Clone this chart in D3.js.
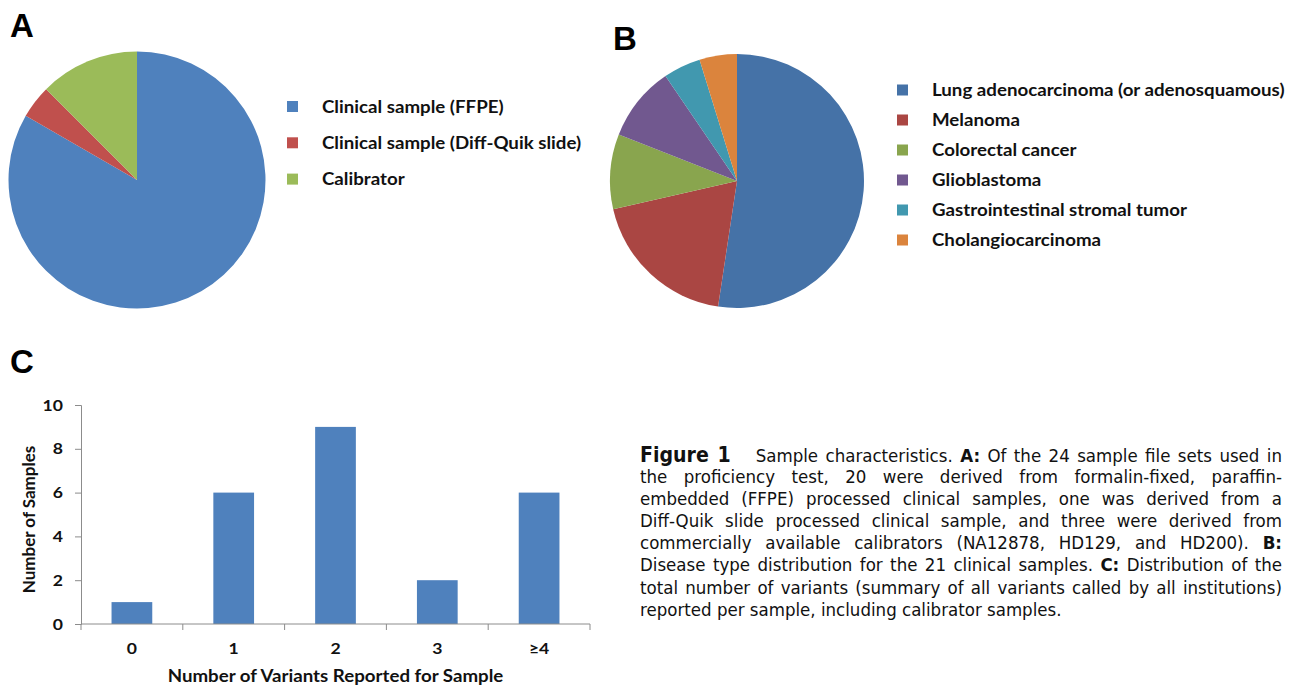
<!DOCTYPE html>
<html><head><meta charset="utf-8">
<script src="https://cdn.jsdelivr.net/npm/d3@7"></script>
<style>
body{margin:0;background:#fff;}
#wrap{position:relative;width:1295px;height:688px;overflow:hidden;}
svg{position:absolute;left:0;top:0;}
#cap{position:absolute;left:640px;top:444px;font-family:"DejaVu Sans Condensed","Liberation Sans Narrow",sans-serif;color:#111;transform-origin:0 0;}
#cap .ln{text-align:justify;text-align-last:justify;white-space:nowrap;height:22.1px;line-height:22.1px;}
#cap .ln.last{text-align-last:left;}
</style></head><body>
<div id="wrap"><svg id="chart" width="1295" height="688"></svg><div id="cap"></div></div>
<script>
// ---- Data ----
const sampleTypes = ["Clinical sample (FFPE)", "Clinical sample (Diff-Quik slide)", "Calibrator"];
const sampleCounts = [20, 1, 3];
const sampleColors = ["#4F81BD", "#C0504D", "#9BBB59"];

const diseaseTypes = ["Lung adenocarcinoma (or adenosquamous)", "Melanoma", "Colorectal cancer", "Glioblastoma", "Gastrointestinal stromal tumor", "Cholangiocarcinoma"];
const diseaseCounts = [11, 4, 2, 2, 1, 1];
const diseaseColors = ["#4572A7", "#AA4643", "#89A54E", "#71588F", "#4198AF", "#DB843D"];

const variantCategories = ["0", "1", "2", "3", "\u22654"];
const variantSamples = [1, 6, 9, 2, 6];
const yTicks = [0, 2, 4, 6, 8, 10];

const captionLines = [
  [["b","Figure 1"],["n","\u2003\u2002Sample characteristics. "],["b","A:"],["n"," Of the 24 sample file sets used in"]],
  [["n","the proficiency test, 20 were derived from formalin-fixed, paraffin-"]],
  [["n","embedded (FFPE) processed clinical samples, one was derived from a"]],
  [["n","Diff-Quik slide processed clinical sample, and three were derived from"]],
  [["n","commercially available calibrators (NA12878, HD129, and HD200). "],["b","B:"]],
  [["n","Disease type distribution for the 21 clinical samples. "],["b","C:"],["n"," Distribution of the"]],
  [["n","total number of variants (summary of all variants called by all institutions)"]],
  [["n","reported per sample, including calibrator samples."]]
];

const svg = d3.select("#chart");
const labelFont = "Lato, 'Open Sans', sans-serif";
const SX = 1.1; // horizontal stretch of the labels

function label(g, x, y, t, size, anchor){
  return g.append("text").attr("transform",`translate(${x},${y}) scale(${SX},1)`)
    .attr("text-anchor",anchor||"start").text(t)
    .attr("font-family",labelFont).attr("font-weight","bold").attr("font-size",size).attr("fill","#111");
}

// panel letters
[["A",10,37],["B",613,50],["C",10,373]].forEach(([t,x,y])=>{
  svg.append("text").attr("x",x).attr("y",y).text(t)
    .attr("font-family","'Liberation Sans', Arial, sans-serif").attr("font-weight","bold").attr("font-size",33).attr("fill","#000");
});

function drawPie(cx, cy, r, vals, cols, names, legX, legY0, legStep){
  const pie = d3.pie().sort(null).value(d=>d)(vals);
  const arc = d3.arc().innerRadius(0).outerRadius(r);
  const g = svg.append("g").attr("transform",`translate(${cx},${cy})`);
  g.selectAll("path").data(pie).join("path").attr("d",arc).attr("fill",(d,i)=>cols[i]);
  const lg = svg.append("g");
  names.forEach((n,i)=>{
    const y = legY0 + i*legStep;
    lg.append("rect").attr("x",legX).attr("y",y-5.5).attr("width",11).attr("height",11).attr("fill",cols[i]);
    label(lg, legX+35, y+6, n, 17);
  });
}
drawPie(137,180,128.5,sampleCounts,sampleColors,sampleTypes,287,106.5,36.3);
drawPie(737,181,127,diseaseCounts,diseaseColors,diseaseTypes,897,90,30);

// ---- Bar chart C ----
const x0=81, x1=590, yTop=405, yBot=624;
const x = d3.scaleBand().domain(variantCategories).range([x0,x1]).paddingInner(0.6).paddingOuter(0.3);
const xb = d3.scaleBand().domain(variantCategories).range([x0,x1]);
const y = d3.scaleLinear().domain([0,10]).range([yBot,yTop]);
const gc = svg.append("g");
gc.selectAll("rect.bar").data(variantSamples).join("rect").attr("class","bar")
  .attr("x",(d,i)=>x(variantCategories[i])).attr("width",x.bandwidth())
  .attr("y",d=>y(d)).attr("height",d=>yBot-y(d)).attr("fill","#4F81BD");
const axisCol="#8c8c8c";
const ya = gc.append("g").attr("transform",`translate(${x0},0)`).call(d3.axisLeft(y).tickValues(yTicks).tickSize(6).tickPadding(12));
ya.select(".domain").attr("stroke",axisCol);
ya.selectAll(".tick line").attr("stroke",axisCol);
ya.selectAll("text").attr("x",null).attr("transform",`translate(-18,0) scale(${SX},1)`)
  .attr("font-family",labelFont).attr("font-weight","bold").attr("font-size",16).attr("fill","#111");
const xa = gc.append("g").attr("transform",`translate(0,${yBot})`).call(d3.axisBottom(xb).tickSize(0).tickPadding(19));
xa.select(".domain").attr("stroke",axisCol).attr("d",`M${x0},0H${x1}`);
xa.selectAll("text").attr("transform",`scale(${SX},1)`)
  .attr("font-family",labelFont).attr("font-weight","bold").attr("font-size",16).attr("fill","#111");
// boundary ticks between categories
const bounds = variantCategories.map(c=>xb(c)).concat([x1]);
xa.selectAll("line.bt").data(bounds).join("line").attr("class","bt")
  .attr("x1",d=>d).attr("x2",d=>d).attr("y1",0).attr("y2",6).attr("stroke",axisCol);
label(gc, (x0+x1)/2, 682, "Number of Variants Reported for Sample", 17, "middle");
gc.append("text").attr("transform",`translate(35,${(yTop+yBot)/2+5}) rotate(-90)`).attr("text-anchor","middle").text("Number of Samples")
  .attr("font-family",labelFont).attr("font-weight","bold").attr("font-size",17).attr("fill","#111");

// ---- Caption ----
const cap = d3.select("#cap");
captionLines.forEach((ln,i)=>{
  const div = cap.append("div").attr("class","ln"+(i===captionLines.length-1?" last":""));
  ln.forEach(([t,s],j)=>{
    const sp = div.append("span").text(s);
    if(t==="b"){ sp.style("font-weight","bold"); }
    if(i===0 && j===0){ sp.style("font-size","1.14em"); }
  });
});
// fixed font size, squeeze horizontally so the longest natural line fits the column
const fs=18.5;
cap.style("font-size",fs+"px");
const probe = document.createElement("span");
probe.style.whiteSpace="nowrap"; probe.style.visibility="hidden"; probe.style.position="absolute";
probe.textContent=captionLines[6][0][1];
document.getElementById("cap").appendChild(probe);
const w = probe.getBoundingClientRect().width;
probe.remove();
const sx = Math.min(1, 640/w);
cap.style("width",(642/sx)+"px").style("transform",`scale(${sx},1)`);
</script></body></html>
